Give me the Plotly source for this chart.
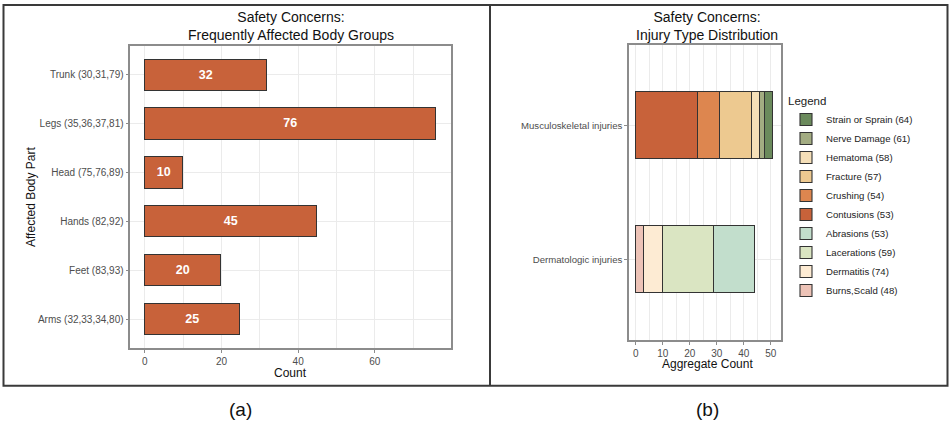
import plotly.graph_objects as go

# ---- data ----
body_parts = ["Arms (32,33,34,80)", "Feet (83,93)", "Hands (82,92)",
              "Head (75,76,89)", "Legs (35,36,37,81)", "Trunk (30,31,79)"]
body_counts = [25, 20, 45, 10, 76, 32]

injury_groups = ["Dermatologic injuries", "Musculoskeletal injuries"]
# trace order = stacking order (left to right); legend shown reversed
injury_types = ["Burns,Scald (48)", "Dermatitis (74)", "Lacerations (59)", "Abrasions (53)",
                "Contusions (53)", "Crushing (54)", "Fracture (57)", "Hematoma (58)",
                "Nerve Damage (61)", "Strain or Sprain (64)"]
injury_group_of = ["Dermatologic injuries"] * 4 + ["Musculoskeletal injuries"] * 6
injury_counts = [3, 7, 19, 15, 23, 8, 12, 3, 2, 3]
injury_colors = ["#EDC3B7", "#FDEBD3", "#DAE5C2", "#C2DECC",
                 "#C8623A", "#DD864F", "#EDC990", "#F5DFB8",
                 "#A3AC82", "#6B8A5C"]

W, H = 951, 434
def px(x): return x / W
def py(y): return 1 - y / H

FONT = "Liberation Sans, Arial, sans-serif"
GRID = "#EBEBEB"
BORDER = "#8C8C8C"

fig = go.Figure()

fig.add_trace(go.Bar(
    y=body_parts, x=body_counts, orientation="h", width=0.64,
    marker=dict(color="#C8623A", line=dict(color="#333333", width=1.1)),
    text=[str(v) for v in body_counts], textposition="inside",
    insidetextanchor="middle",
    textfont=dict(color="white", size=12.5, family=FONT, weight="bold"),
    xaxis="x", yaxis="y", showlegend=False, hoverinfo="x+y",
))

for name, grp, val, col in zip(injury_types, injury_group_of, injury_counts, injury_colors):
    fig.add_trace(go.Bar(
        y=[grp], x=[val], orientation="h", width=0.5, name=name,
        marker=dict(color=col, line=dict(color="#333333", width=1.1)),
        xaxis="x2", yaxis="y2", showlegend=True,
    ))

axis_common = dict(
    showline=True, linecolor=BORDER, linewidth=1.5, mirror=True,
    ticks="outside", ticklen=3, tickcolor=BORDER,
    gridcolor=GRID, gridwidth=1, zeroline=False,
    tickfont=dict(family=FONT, size=10, color="#4D4D4D"),
)

fig.update_layout(
    width=W, height=H, margin=dict(l=0, r=0, t=0, b=0),
    paper_bgcolor="white", plot_bgcolor="white",
    barmode="stack", bargap=0,
    font=dict(family=FONT),
    xaxis=dict(domain=[px(130.3), px(450.7)], anchor="y", range=[-3.8, 79.8],
               tickvals=[0, 20, 40, 60],
               minor=dict(tickvals=[10, 30, 50, 70], showgrid=True, gridcolor=GRID, gridwidth=0.6, ticks=""),
               **axis_common),
    yaxis=dict(domain=[py(348.3), py(45.7)], anchor="x", type="category",
               categoryorder="array", categoryarray=body_parts, range=[-0.6, 5.6],
               **axis_common),
    xaxis2=dict(domain=[px(629), px(781.3)], anchor="y2", range=[-2.55, 53.9],
                tickvals=[0, 10, 20, 30, 40, 50],
                minor=dict(tickvals=[5, 15, 25, 35, 45], showgrid=True, gridcolor=GRID, gridwidth=0.6, ticks=""),
                **axis_common),
    yaxis2=dict(domain=[py(340), py(45)], anchor="x2", type="category",
                categoryorder="array", categoryarray=injury_groups, range=[-0.6, 1.6],
                **{**axis_common, "tickfont": dict(family=FONT, size=9.6, color="#4D4D4D")}),
    legend=dict(x=px(786), y=py(90), xanchor="left", yanchor="top",
                traceorder="reversed", title=dict(text="Legend", font=dict(size=11.5, color="#222")),
                font=dict(family=FONT, size=9.6, color="#222"), itemwidth=30,
                tracegroupgap=0, bgcolor="rgba(0,0,0,0)"),
    bargroupgap=0,
)
fig.update_yaxes(automargin=False)
fig.update_xaxes(automargin=False)

shapes = [
    dict(type="rect", xref="paper", yref="paper", x0=px(3.5), x1=px(947.5), y0=py(385.7), y1=py(5),
         line=dict(color="#3A3A3A", width=2)),
    dict(type="line", xref="paper", yref="paper", x0=px(490), x1=px(490), y0=py(385.7), y1=py(5),
         line=dict(color="#3A3A3A", width=2)),
]
fig.update_layout(shapes=shapes)

ann = [
    dict(text="Safety Concerns:<br>Frequently Affected Body Groups", x=px(291), y=py(26),
         font=dict(size=14, color="#111")),
    dict(text="Safety Concerns:<br>Injury Type Distribution", x=px(707), y=py(26),
         font=dict(size=14, color="#111")),
    dict(text="Count", x=px(290), y=py(373), font=dict(size=12, color="#111")),
    dict(text="Aggregate Count", x=px(707), y=py(364), font=dict(size=12, color="#111")),
    dict(text="Affected Body Part", x=px(31), y=py(197), textangle=-90, font=dict(size=12, color="#111")),
    dict(text="(a)", x=px(240), y=py(409), font=dict(size=19, color="#111")),
    dict(text="(b)", x=px(707), y=py(409), font=dict(size=19, color="#111")),
]
for a in ann:
    a.update(xref="paper", yref="paper", showarrow=False, xanchor="center", yanchor="middle")
    a["font"]["family"] = FONT
fig.update_layout(annotations=ann)

fig.write_html("out.html")
